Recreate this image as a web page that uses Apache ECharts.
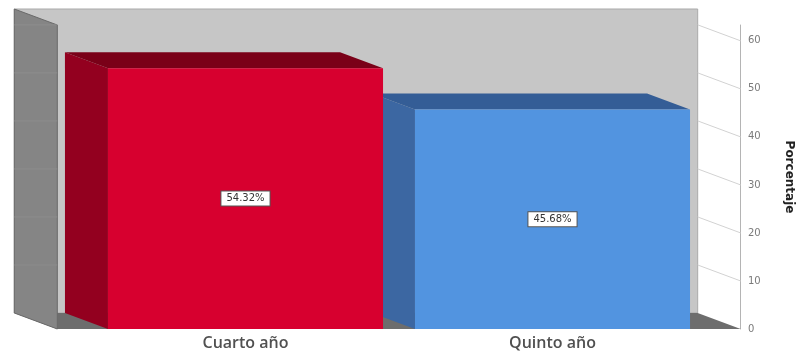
<!DOCTYPE html>
<html><head><meta charset="utf-8">
<script src="https://cdn.jsdelivr.net/npm/echarts@6/dist/echarts.min.js"></script>
<style>html,body{margin:0;padding:0;background:#fff}#c{width:799px;height:356px}</style>
</head><body><div id="c"></div>
<script>
const categories = ['Cuarto año', 'Quinto año'];
const percentages = [54.32, 45.68];
const yTickValues = [0, 10, 20, 30, 40, 50, 60];
const yMax = 63.3;

const faceColors = ['#d7002f', '#5294e0'];
const sideColors = ['#93001f', '#3c67a2'];
const topColors = ['#7a0018', '#345d96'];
const DX = -43, DY = -16;

const chart = echarts.init(document.getElementById('c'), null, {renderer: 'canvas'});

function wallsRender(params, api) {
  const cs = params.coordSys;
  const pad = api.size([1, 0])[0] * 0.113;
  const fl = cs.x - pad, fr = cs.x + cs.width + pad, ft = cs.y, fb = cs.y + cs.height;
  const ch = [];
  ch.push({type: 'polygon', shape: {points: [[fl + DX, ft + DY], [fr + DX, ft + DY], [fr + DX, fb + DY], [fl + DX, fb + DY]]},
    style: {fill: '#c6c6c6', stroke: '#a9a9a9', lineWidth: 1}});
  ch.push({type: 'polygon', shape: {points: [[fl + DX, fb + DY], [fr + DX, fb + DY], [fr, fb], [fl, fb]]},
    style: {fill: '#6d6d6d'}});
  ch.push({type: 'polygon', shape: {points: [[fl + DX, ft + DY], [fl, ft], [fl, fb], [fl + DX, fb + DY]]},
    style: {fill: '#858585', stroke: '#6a6a6a', lineWidth: 1}});
  yTickValues.forEach(v => {
    if (v === 0) return;
    const y = api.coord([0, v])[1];
    ch.push({type: 'line', shape: {x1: fr + DX, y1: y + DY, x2: fr, y2: y}, style: {stroke: '#d2d2d2', lineWidth: 1}});
    ch.push({type: 'line', shape: {x1: fl + DX, y1: y + DY, x2: fl, y2: y + DY}, style: {stroke: '#8d8d8d', lineWidth: 1}});
  });
  return {type: 'group', children: ch};
}

function barRender(params, api) {
  const idx = api.value(0), val = api.value(1);
  const base = api.coord([idx, 0]), top = api.coord([idx, val]);
  const w = api.size([1, 0])[0] * 0.896;
  const x0 = base[0] - w / 2, x1 = base[0] + w / 2;
  const yb = base[1], yt = top[1];
  const z = 10 + (categories.length - idx) * 3;
  return {type: 'group', children: [
    {type: 'polygon', z2: z, shape: {points: [[x0, yt], [x0 + DX, yt + DY], [x0 + DX, yb + DY], [x0, yb]]}, style: {fill: sideColors[idx]}},
    {type: 'polygon', z2: z, shape: {points: [[x0, yt], [x1, yt], [x1 + DX, yt + DY], [x0 + DX, yt + DY]]}, style: {fill: topColors[idx]}},
    {type: 'rect', z2: z + 1, shape: {x: x0, y: yt, width: w, height: yb - yt}, style: {fill: faceColors[idx]}},
    {type: 'text', z2: 100, x: base[0], y: (yt + yb) / 2, style: {
      text: val.toFixed(2) + '%', fill: '#333', fontSize: 10, fontFamily: 'DejaVu Sans',
      align: 'center', verticalAlign: 'middle', backgroundColor: '#fff',
      borderColor: '#555', borderWidth: 1, padding: [2, 5]}}
  ]};
}

chart.setOption({
  animation: false,
  grid: {left: 92, right: 93, top: 25, bottom: 27, containLabel: false, outerBoundsMode: 'none'},
  xAxis: {type: 'category', data: categories,
    axisLine: {show: false}, axisTick: {show: false},
    axisLabel: {fontSize: 16, fontWeight: 600, color: '#505050', fontFamily: 'Open Sans', margin: 6}},
  yAxis: {type: 'value', position: 'right', offset: 34, min: 0, max: yMax, interval: 10,
    axisLine: {show: true, lineStyle: {color: '#b4b4b4'}}, axisTick: {show: false}, splitLine: {show: false},
    axisLabel: {color: '#7a7a7a', fontSize: 10, margin: 8, fontFamily: 'DejaVu Sans',
      formatter: v => yTickValues.indexOf(v) >= 0 ? String(v) : ''},
    name: 'Porcentaje', nameLocation: 'middle', nameRotate: -90, nameGap: 43,
    nameTextStyle: {fontSize: 12, fontWeight: 'bold', color: '#222', fontFamily: 'DejaVu Sans'}},
  series: [
    {type: 'custom', z: 1, silent: true, renderItem: wallsRender, data: [[0, 0]], clip: false},
    {type: 'custom', z: 2, silent: true, renderItem: barRender, clip: false,
      data: categories.map((c, i) => [i, percentages[i]])}
  ]
});
</script></body></html>
